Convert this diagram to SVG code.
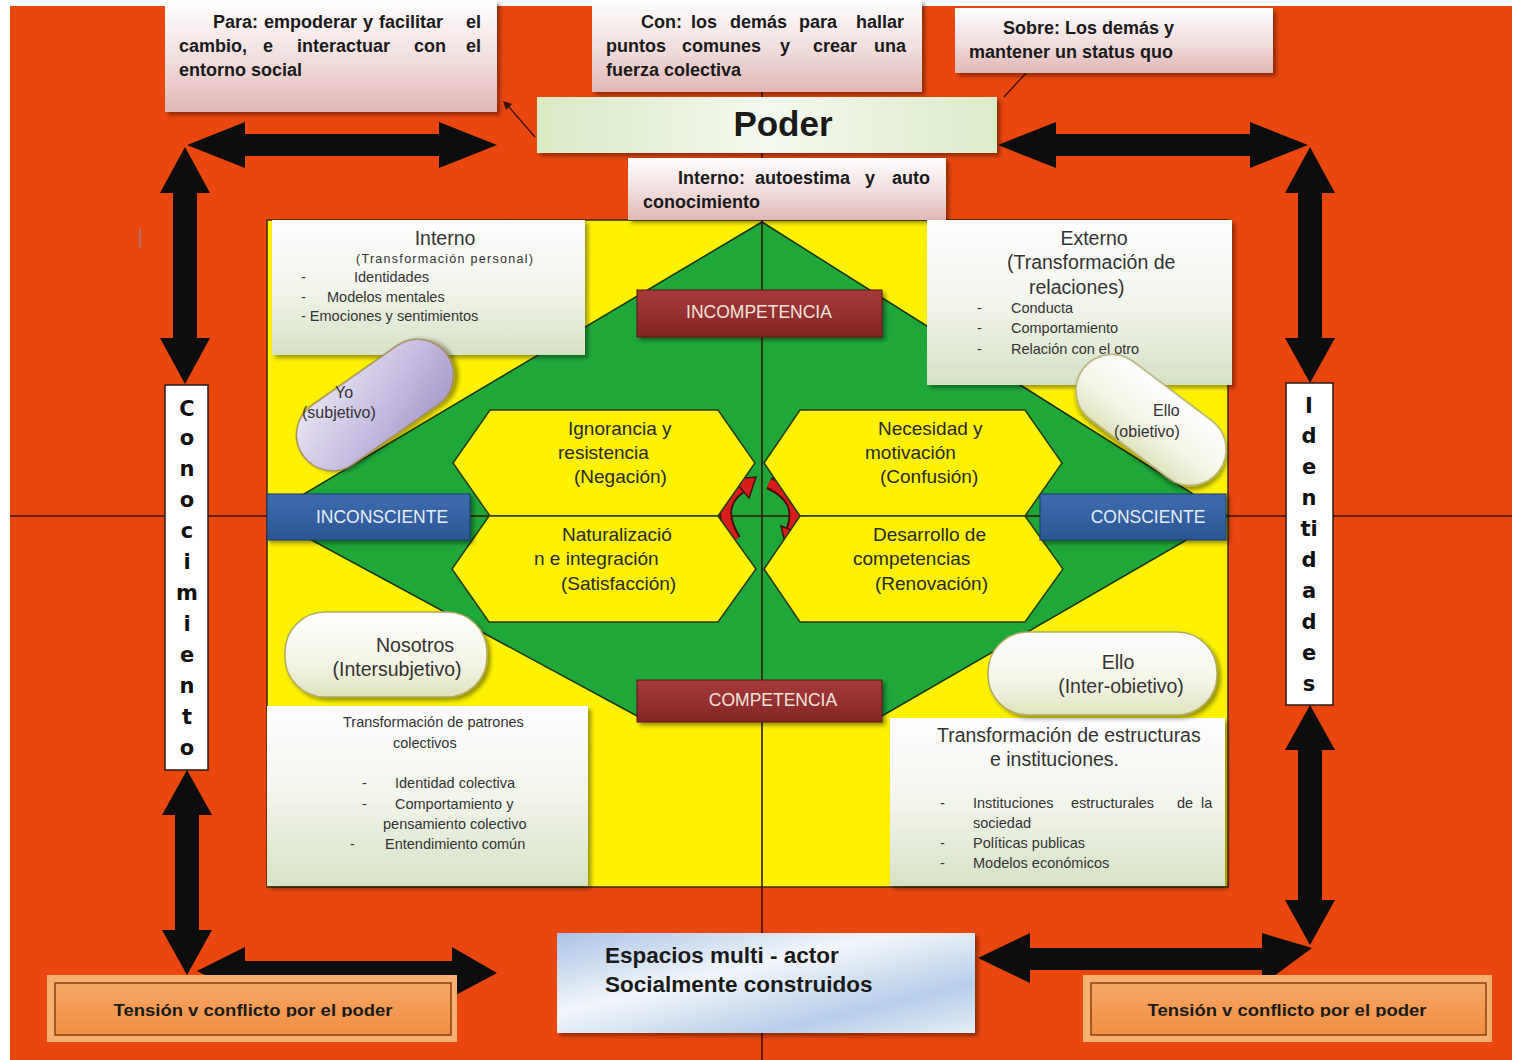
<svg xmlns="http://www.w3.org/2000/svg" width="1522" height="1060" viewBox="0 0 1522 1060">
<style>
text{font-family:"Liberation Sans",Arial,sans-serif;fill:#222}
.b{font-weight:700;fill:#1a1a1a}
.top{font-size:18px}
.q{font-size:14.5px;fill:#333}
.qs{font-size:12.5px;fill:#333}
.h{font-size:19.5px;fill:#333}
.hx{font-size:19px;fill:#2a2a2a}
.pl{font-size:16px;fill:#333}
.lbl{font-size:17.5px;fill:#f2e4d8}
.lblb{font-size:17.5px;fill:#e6eef8}
.arrow{fill:#0d0d0d}
.axis{stroke:#3a1606;stroke-width:1.6;fill:none}
.hex{fill:#fff200;stroke:#2a3a10;stroke-width:1.5}
.vert{font-family:"DejaVu Sans",sans-serif;font-weight:900;font-size:21px;fill:#111;text-anchor:middle}
.mid{text-anchor:middle}
</style>
<defs>
<filter id="sh" x="-10%" y="-10%" width="130%" height="140%"><feDropShadow dx="3" dy="3" stdDeviation="2" flood-color="#000" flood-opacity="0.4"/></filter>
<linearGradient id="pink" x1="0" y1="0" x2="0" y2="1"><stop offset="0" stop-color="#ffffff"/><stop offset="0.55" stop-color="#f1dcdc"/><stop offset="1" stop-color="#e2b6b6"/></linearGradient>
<linearGradient id="poder" x1="0" y1="0" x2="1" y2="0"><stop offset="0" stop-color="#d8e9c3"/><stop offset="0.5" stop-color="#f4f9ee"/><stop offset="1" stop-color="#dcebc8"/></linearGradient>
<linearGradient id="quad" x1="0" y1="0" x2="0" y2="1"><stop offset="0" stop-color="#ffffff"/><stop offset="0.5" stop-color="#f2f5ec"/><stop offset="1" stop-color="#d6e2c4"/></linearGradient>
<linearGradient id="cream" x1="0" y1="0" x2="0" y2="1"><stop offset="0" stop-color="#ffffff"/><stop offset="0.6" stop-color="#f4f5e6"/><stop offset="1" stop-color="#dfe3bd"/></linearGradient>
<linearGradient id="purple" x1="0" y1="0" x2="1" y2="1"><stop offset="0" stop-color="#ece8f6"/><stop offset="0.5" stop-color="#c9c0e2"/><stop offset="1" stop-color="#a497cc"/></linearGradient>
<linearGradient id="blue" x1="0" y1="0" x2="1" y2="1"><stop offset="0" stop-color="#a9c4e6"/><stop offset="0.4" stop-color="#f2f6fb"/><stop offset="0.75" stop-color="#b7cfea"/><stop offset="1" stop-color="#e4eef8"/></linearGradient>
<linearGradient id="red" x1="0" y1="0" x2="0" y2="1"><stop offset="0" stop-color="#a63a3a"/><stop offset="1" stop-color="#842626"/></linearGradient>
<linearGradient id="blu" x1="0" y1="0" x2="0" y2="1"><stop offset="0" stop-color="#3f6cae"/><stop offset="1" stop-color="#2c5594"/></linearGradient>
<linearGradient id="tens" x1="0" y1="0" x2="0" y2="1"><stop offset="0" stop-color="#f7a766"/><stop offset="1" stop-color="#f08e40"/></linearGradient>
<clipPath id="clipL"><rect x="40" y="990" width="420" height="27"/></clipPath>
<clipPath id="clipR"><rect x="1080" y="990" width="420" height="27"/></clipPath>
</defs>

<!-- background -->
<rect x="0" y="0" width="1522" height="1060" fill="#ffffff"/>
<rect x="10" y="6" width="1502" height="1054" fill="#e9470d"/>
<line x1="140" y1="229" x2="140" y2="248" stroke="#8a8a8a" stroke-width="1.5"/>

<!-- central field -->
<g id="field">
<rect x="267" y="220" width="961" height="667" fill="#fff200" stroke="#3a2a10" stroke-width="1.5"/>
<polygon points="762,222 1228,516 882,716 637,716 267,516" fill="#1ea83a" stroke="#1a3010" stroke-width="1.5"/>
</g>

<!-- connectors / axes -->
<g id="connectors">
<line class="axis" x1="10" y1="516" x2="1512" y2="516"/>
<line class="axis" x1="762" y1="8" x2="762" y2="1060"/>
<line x1="535" y1="137" x2="508" y2="106" stroke="#3a1010" stroke-width="1.3"/>
<polygon points="503,101 512,104 506,110" fill="#3a1010"/>
<line x1="1026" y1="73" x2="1004" y2="97" stroke="#3a1010" stroke-width="1.3"/>
<polygon class="arrow" points="187,145 245,122 245,134 439,134 439,122 497,145 439,168 439,156 245,156 245,168"/>
<polygon class="arrow" points="998,145 1056,122 1056,134 1250,134 1250,122 1308,145 1250,168 1250,156 1056,156 1056,168"/>
<polygon class="arrow" points="185,147 210,193 197,193 197,338 210,338 185,384 160,338 173,338 173,193 160,193"/>
<polygon class="arrow" points="187,770 212,815 199,815 199,930 212,930 187,975 162,930 175,930 175,815 162,815"/>
<polygon class="arrow" points="1310,147 1335,193 1322,193 1322,338 1335,338 1310,383 1285,338 1298,338 1298,193 1285,193"/>
<polygon class="arrow" points="1310,705 1335,750 1322,750 1322,900 1335,900 1310,945 1285,900 1298,900 1298,750 1285,750"/>
<polygon class="arrow" points="197,971 245,947 245,961 452,961 452,947 497,973 452,997 452,981 245,981 245,995"/>
<polygon class="arrow" points="978,958 1030,933 1030,948 1262,948 1262,933 1312,948 1262,985 1262,970 1030,970 1030,983"/>
<!-- red cycle arrows -->
<path d="M735,540 Q714,506 740,488" fill="none" stroke="#4a0a0a" stroke-width="13"/>
<path d="M735,540 Q714,506 740,488" fill="none" stroke="#d81c1c" stroke-width="9"/>
<polygon points="756,477 749,498 733,479" fill="#d81c1c" stroke="#4a0a0a" stroke-width="1.5"/>
<path d="M769,483 Q804,499 792,530" fill="none" stroke="#4a0a0a" stroke-width="13"/>
<path d="M769,483 Q804,499 792,530" fill="none" stroke="#d81c1c" stroke-width="9"/>
<polygon points="786,547 802,534 781,526" fill="#d81c1c" stroke="#4a0a0a" stroke-width="1.5"/>
</g>

<!-- hexagons -->
<g id="hex-ignorancia">
<polygon class="hex" points="453,463 490,410 718,410 755,463 718,516 490,516"/>
<text class="hx" x="568" y="435">Ignorancia y</text>
<text class="hx" x="558" y="459">resistencia</text>
<text class="hx" x="574" y="483">(Negación)</text>
</g>
<g id="hex-naturalizacion">
<polygon class="hex" points="452,569 489,516 718,516 756,569 718,622 489,622"/>
<text class="hx" x="562" y="541">Naturalizació</text>
<text class="hx" x="534" y="565">n  e integración</text>
<text class="hx" x="561" y="590">(Satisfacción)</text>
</g>
<g id="hex-necesidad">
<polygon class="hex" points="764,463 800,410 1025,410 1062,463 1025,516 800,516"/>
<text class="hx" x="878" y="435">Necesidad y</text>
<text class="hx" x="865" y="459">motivación</text>
<text class="hx" x="880" y="483">(Confusión)</text>
</g>
<g id="hex-desarrollo">
<polygon class="hex" points="764,569 800,516 1025,516 1063,569 1025,622 800,622"/>
<text class="hx" x="873" y="541">Desarrollo de</text>
<text class="hx" x="853" y="565">competencias</text>
<text class="hx" x="875" y="590">(Renovación)</text>
</g>

<!-- top boxes -->
<g id="box-para">
<rect x="165" y="0" width="332" height="112" fill="url(#pink)" filter="url(#sh)"/>
<text class="b top" y="28"><tspan x="213">Para:</tspan> <tspan x="264">empoderar</tspan> <tspan x="363">y</tspan> <tspan x="379">facilitar</tspan> <tspan x="466">el</tspan></text>
<text class="b top" y="52"><tspan x="179">cambio,</tspan> <tspan x="263">e</tspan> <tspan x="297">interactuar</tspan> <tspan x="414">con</tspan> <tspan x="466">el</tspan></text>
<text class="b top" x="179" y="76">entorno social</text>
</g>
<g id="box-con">
<rect x="592" y="0" width="330" height="92" fill="url(#pink)" filter="url(#sh)"/>
<text class="b top" y="28"><tspan x="641">Con:</tspan> <tspan x="691">los</tspan> <tspan x="730">demás</tspan> <tspan x="799">para</tspan> <tspan x="856">hallar</tspan></text>
<text class="b top" y="52"><tspan x="606">puntos</tspan> <tspan x="682">comunes</tspan> <tspan x="780">y</tspan> <tspan x="813">crear</tspan> <tspan x="874">una</tspan></text>
<text class="b top" x="606" y="76">fuerza colectiva</text>
</g>
<g id="box-sobre">
<rect x="955" y="8" width="318" height="65" fill="url(#pink)" filter="url(#sh)"/>
<text class="b top" x="1003" y="34">Sobre: Los demás y</text>
<text class="b top" x="969" y="58">mantener un status quo</text>
</g>
<g id="box-poder">
<rect x="537" y="97" width="460" height="56" fill="url(#poder)" filter="url(#sh)"/>
<text class="b mid" x="783" y="136" font-size="35">Poder</text>
</g>
<g id="box-interno-poder">
<rect x="628" y="158" width="318" height="62" fill="url(#pink)" filter="url(#sh)"/>
<text class="b top" y="184"><tspan x="678">Interno:</tspan> <tspan x="755">autoestima</tspan> <tspan x="865">y</tspan> <tspan x="892">auto</tspan></text>
<text class="b top" x="643" y="208">conocimiento</text>
</g>

<!-- quadrant boxes -->
<g id="box-interno">
<rect x="272" y="220" width="313" height="135" fill="url(#quad)" filter="url(#sh)"/>
<text class="h mid" x="445" y="245">Interno</text>
<text class="qs" x="356" y="263" textLength="177" lengthAdjust="spacing">(Transformación personal)</text>
<text class="q" x="301" y="282">-</text><text class="q" x="354" y="282">Identidades</text>
<text class="q" x="301" y="302">-</text><text class="q" x="327" y="302">Modelos mentales</text>
<text class="q" x="301" y="321">- Emociones y sentimientos</text>
</g>
<g id="box-externo">
<rect x="927" y="220" width="305" height="165" fill="url(#quad)" filter="url(#sh)"/>
<text class="h mid" x="1094" y="245">Externo</text>
<text class="h" x="1007" y="269">(Transformación de</text>
<text class="h" x="1029" y="294">relaciones)</text>
<text class="q" x="977" y="313">-</text><text class="q" x="1011" y="313">Conducta</text>
<text class="q" x="977" y="333">-</text><text class="q" x="1011" y="333">Comportamiento</text>
<text class="q" x="977" y="354">-</text><text class="q" x="1011" y="354">Relación con el otro</text>
</g>
<g id="box-patrones">
<rect x="267" y="706" width="321" height="180" fill="url(#quad)" filter="url(#sh)"/>
<text class="q" x="343" y="727" font-size="17">Transformación de patrones</text>
<text class="q" x="393" y="748" font-size="17">colectivos</text>
<text class="q" x="362" y="788">-</text><text class="q" x="395" y="788">Identidad colectiva</text>
<text class="q" x="362" y="809">-</text><text class="q" x="395" y="809">Comportamiento y</text>
<text class="q" x="383" y="829">pensamiento colectivo</text>
<text class="q" x="350" y="849">-</text><text class="q" x="385" y="849">Entendimiento común</text>
</g>
<g id="box-estructuras">
<rect x="890" y="718" width="335" height="168" fill="url(#quad)" filter="url(#sh)"/>
<text class="h" x="937" y="742">Transformación de estructuras</text>
<text class="h" x="990" y="766">e instituciones.</text>
<text class="q" x="940" y="808">-</text><text class="q" y="808"><tspan x="973">Instituciones</tspan> <tspan x="1071">estructurales</tspan> <tspan x="1177">de</tspan> <tspan x="1201">la</tspan></text>
<text class="q" x="973" y="828">sociedad</text>
<text class="q" x="940" y="848">-</text><text class="q" x="973" y="848">Políticas publicas</text>
<text class="q" x="940" y="868">-</text><text class="q" x="973" y="868">Modelos económicos</text>
</g>

<!-- pills -->
<g id="pill-yo">
<rect x="287" y="369" width="176" height="72" rx="36" fill="url(#purple)" stroke="#a08850" stroke-width="1.5" transform="rotate(-35 375 405)" filter="url(#sh)"/>
<text class="pl" x="335" y="398">Yo</text>
<text class="pl" x="302" y="418">(subjetivo)</text>
</g>
<g id="pill-ello">
<rect x="1066" y="384" width="170" height="72" rx="36" fill="url(#cream)" stroke="#b0aa70" stroke-width="1.5" transform="rotate(37 1151 420)" filter="url(#sh)"/>
<text class="pl" x="1153" y="416">Ello</text>
<text class="pl" x="1114" y="437">(obietivo)</text>
</g>
<g id="pill-nosotros">
<rect x="285" y="612" width="202" height="85" rx="40" fill="url(#cream)" stroke="#b0aa60" stroke-width="1.5" filter="url(#sh)"/>
<text class="h mid" x="415" y="652">Nosotros</text>
<text class="h mid" x="397" y="676">(Intersubjetivo)</text>
</g>
<g id="pill-ello-inter">
<rect x="988" y="632" width="229" height="83" rx="40" fill="url(#cream)" stroke="#b0aa60" stroke-width="1.5" filter="url(#sh)"/>
<text class="h mid" x="1118" y="669">Ello</text>
<text class="h mid" x="1121" y="693">(Inter-obietivo)</text>
</g>

<!-- axis labels -->
<g id="lbl-incompetencia">
<rect x="637" y="290" width="245" height="47" fill="url(#red)" stroke="#5a1515" stroke-width="1" filter="url(#sh)"/>
<text class="lbl mid" x="759" y="318">INCOMPETENCIA</text>
</g>
<g id="lbl-competencia">
<rect x="637" y="680" width="245" height="42" fill="url(#red)" stroke="#5a1515" stroke-width="1" filter="url(#sh)"/>
<text class="lbl mid" x="773" y="706">COMPETENCIA</text>
</g>
<g id="lbl-inconsciente">
<rect x="267" y="494" width="203" height="46" fill="url(#blu)" stroke="#1c3a66" stroke-width="1" filter="url(#sh)"/>
<text class="lblb mid" x="382" y="523">INCONSCIENTE</text>
</g>
<g id="lbl-consciente">
<rect x="1040" y="494" width="186" height="46" fill="url(#blu)" stroke="#1c3a66" stroke-width="1" filter="url(#sh)"/>
<text class="lblb mid" x="1148" y="523">CONSCIENTE</text>
</g>

<!-- side vertical labels -->
<g id="conocimiento">
<rect x="165" y="385" width="43" height="385" fill="#ffffff" stroke="#2a1a1a" stroke-width="1.5"/>
<text class="vert" x="187" y="416">C</text>
<text class="vert" x="187" y="445">o</text>
<text class="vert" x="187" y="476">n</text>
<text class="vert" x="187" y="507">o</text>
<text class="vert" x="187" y="538">c</text>
<text class="vert" x="187" y="569">i</text>
<text class="vert" x="187" y="600">m</text>
<text class="vert" x="187" y="631">i</text>
<text class="vert" x="187" y="662">e</text>
<text class="vert" x="187" y="693">n</text>
<text class="vert" x="187" y="724">t</text>
<text class="vert" x="187" y="755">o</text>
</g>
<g id="identidades">
<rect x="1286" y="383" width="47" height="322" fill="#ffffff" stroke="#2a1a1a" stroke-width="1.5"/>
<text class="vert" x="1309" y="413">I</text>
<text class="vert" x="1309" y="443">d</text>
<text class="vert" x="1309" y="474">e</text>
<text class="vert" x="1309" y="505">n</text>
<text class="vert" x="1309" y="536">ti</text>
<text class="vert" x="1309" y="567">d</text>
<text class="vert" x="1309" y="598">a</text>
<text class="vert" x="1309" y="629">d</text>
<text class="vert" x="1309" y="660">e</text>
<text class="vert" x="1309" y="691">s</text>
</g>

<!-- bottom boxes -->
<g id="box-espacios">
<rect x="557" y="933" width="418" height="100" fill="url(#blue)" filter="url(#sh)"/>
<text class="b" x="605" y="963" font-size="22.5">Espacios  multi - actor</text>
<text class="b" x="605" y="992" font-size="22.5">Socialmente construidos</text>
</g>
<g id="box-tension-left">
<rect x="47" y="975" width="410" height="67" fill="#f8b070"/>
<rect x="55" y="983" width="396" height="52" fill="url(#tens)" stroke="#8a4010" stroke-width="1.5"/>
<text class="b mid" x="253" y="1016" font-size="17" textLength="279" lengthAdjust="spacingAndGlyphs" clip-path="url(#clipL)">Tensión v conflicto por el poder</text>
</g>
<g id="box-tension-right">
<rect x="1083" y="975" width="409" height="67" fill="#f8b070"/>
<rect x="1091" y="983" width="395" height="52" fill="url(#tens)" stroke="#8a4010" stroke-width="1.5"/>
<text class="b mid" x="1287" y="1016" font-size="17" textLength="279" lengthAdjust="spacingAndGlyphs" clip-path="url(#clipR)">Tensión v conflicto por el poder</text>
</g>
</svg>
